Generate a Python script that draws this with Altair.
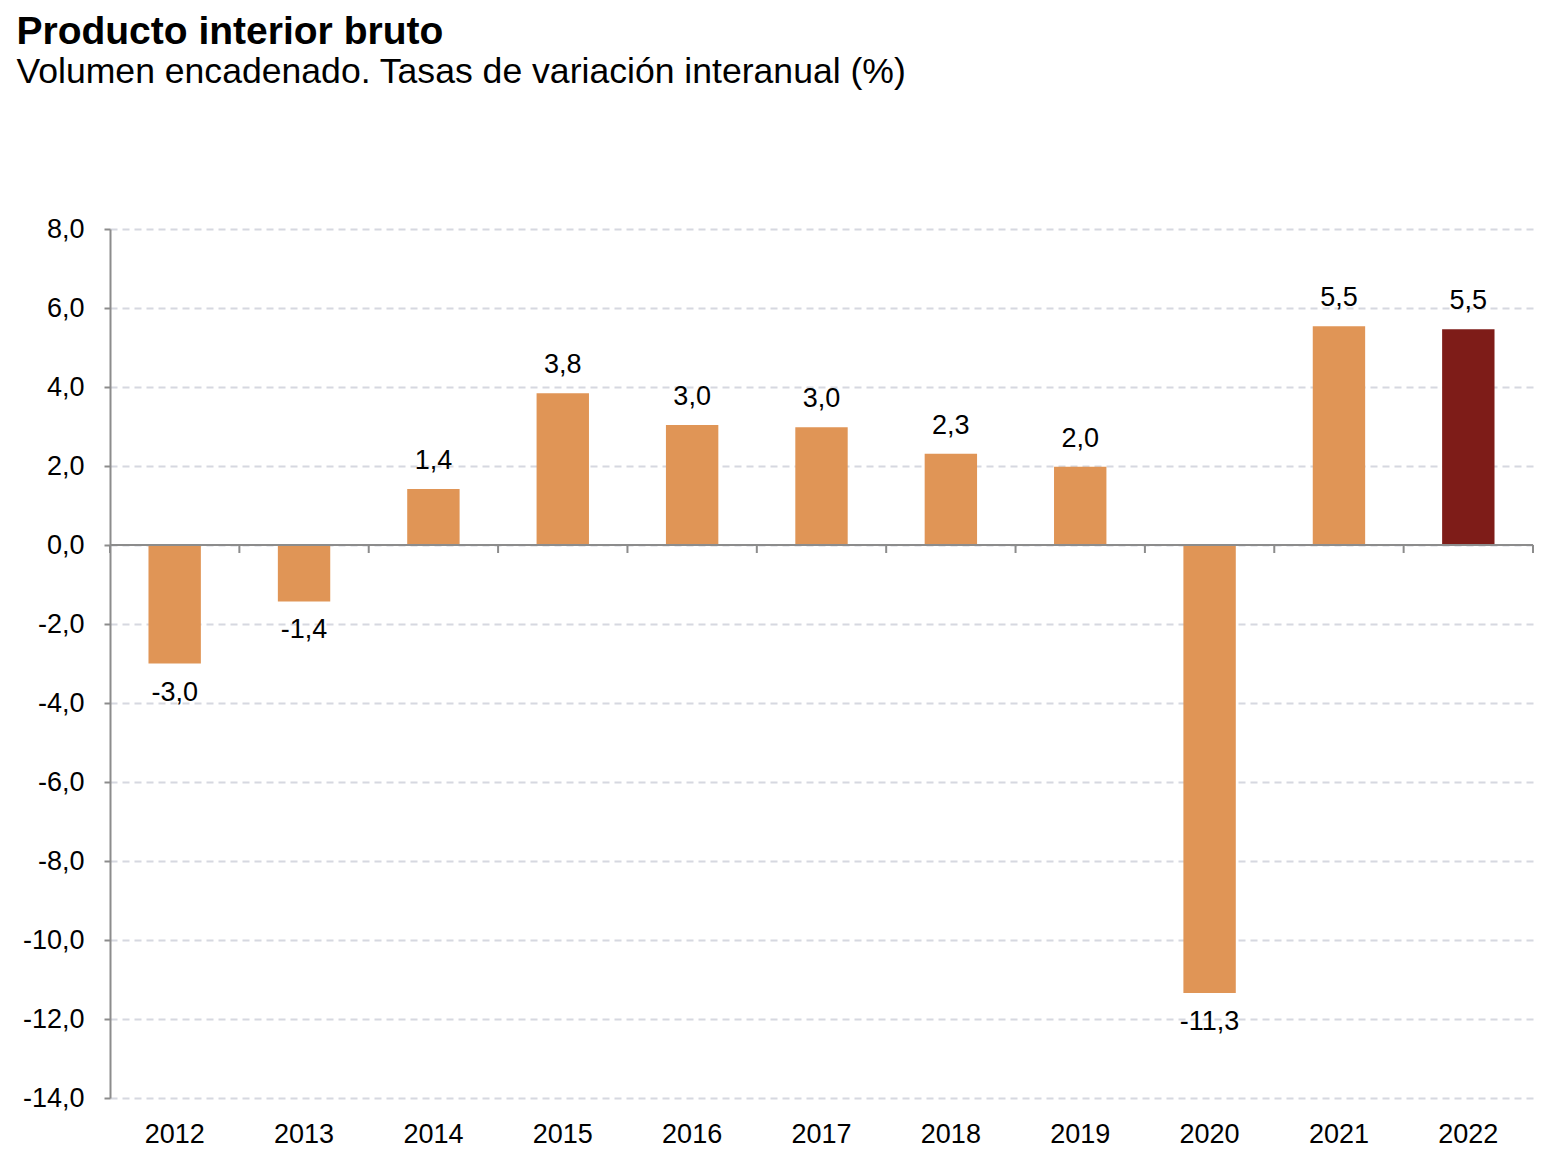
import altair as alt
import pandas as pd

years = ["2012", "2013", "2014", "2015", "2016", "2017", "2018", "2019", "2020", "2021", "2022"]
values = [-3.0, -1.43, 1.42, 3.84, 3.04, 2.98, 2.31, 1.98, -11.34, 5.54, 5.46]
labels = ["-3,0", "-1,4", "1,4", "3,8", "3,0", "3,0", "2,3", "2,0", "-11,3", "5,5", "5,5"]
y_ticks = [-14, -12, -10, -8, -6, -4, -2, 0, 2, 4, 6, 8]

df = pd.DataFrame({"year": years, "value": values, "label": labels})

ORANGE = "#E09556"
DARK = "#7E1C18"
AX = "#8C8C8C"
GRID = "#D6D8E0"
FONT = "Liberation Sans"

base = alt.Chart(df)

x_scale = alt.Scale(paddingInner=0, paddingOuter=0)
x_axis = alt.Axis(
    title=None, domain=False, ticks=False, grid=False, labelAngle=0,
    labelFontSize=27, labelFont=FONT, labelColor="black", labelPadding=23,
)
y_scale = alt.Scale(domain=[-14, 8], nice=False)
y_axis = alt.Axis(
    title=None, values=y_ticks,
    labelExpr="replace(replace(format(datum.value, '.1f'), '.', ','), '\u2212', '-')",
    labelFontSize=27, labelFont=FONT, labelColor="black", labelPadding=20,
    tickSize=6, tickColor=AX, tickWidth=2,
    domainColor=AX, domainWidth=2,
    gridColor=GRID, gridDash=[7, 5], gridWidth=2,
)


def xf(bp=None):
    if bp is None:
        return alt.X("year:N", sort=years, scale=x_scale, axis=x_axis)
    return alt.X("year:N", sort=years, scale=x_scale, axis=x_axis, bandPosition=bp)


def yf(field="value:Q"):
    return alt.Y(field, scale=y_scale, axis=y_axis)


bars = base.mark_bar(width=alt.RelativeBandSize(0.405)).encode(
    x=xf(),
    y=yf(),
    y2=alt.Y2Datum(datum=0),
    color=alt.condition(alt.datum.year == "2022", alt.value(DARK), alt.value(ORANGE)),
)

zero_line = base.transform_filter(alt.datum.year == "2012").transform_calculate(z="0").mark_rule(
    color=AX, strokeWidth=2
).encode(
    y=yf("z:Q")
)

ticks = base.mark_rule(color=AX, strokeWidth=2, y2Offset=8).encode(
    x=xf(0),
    y=alt.YDatum(datum=0, scale=y_scale, axis=y_axis),
    y2=alt.Y2Datum(datum=0),
)
last_tick = base.transform_filter(alt.datum.year == "2022").mark_rule(
    color=AX, strokeWidth=2, y2Offset=8
).encode(
    x=xf(1),
    y=alt.YDatum(datum=0, scale=y_scale, axis=y_axis),
    y2=alt.Y2Datum(datum=0),
)

pos_text = base.transform_filter("datum.value >= 0").mark_text(
    baseline="bottom", dy=-14, fontSize=27, font=FONT, color="black"
).encode(
    x=xf(),
    y=yf(),
    text="label:N",
)
neg_text = base.transform_filter("datum.value < 0").mark_text(
    baseline="top", dy=16, fontSize=27, font=FONT, color="black"
).encode(
    x=xf(),
    y=yf(),
    text="label:N",
)

chart = alt.layer(bars, zero_line, ticks, last_tick, pos_text, neg_text).properties(
    width=1423,
    height=869,
    padding={"left": 8, "top": 5, "right": 5, "bottom": 5},
    title=alt.TitleParams(
        text="Producto interior bruto",
        subtitle="Volumen encadenado. Tasas de variación interanual (%)",
        anchor="start",
        font=FONT, fontSize=39, fontWeight="bold", color="black",
        subtitleFont=FONT, subtitleFontSize=35.6, subtitleColor="black",
        subtitlePadding=3, offset=124, dx=-6,
    ),
).configure_view(stroke=None)

chart.save("out.html", embed_options={"renderer": "svg", "actions": False})
